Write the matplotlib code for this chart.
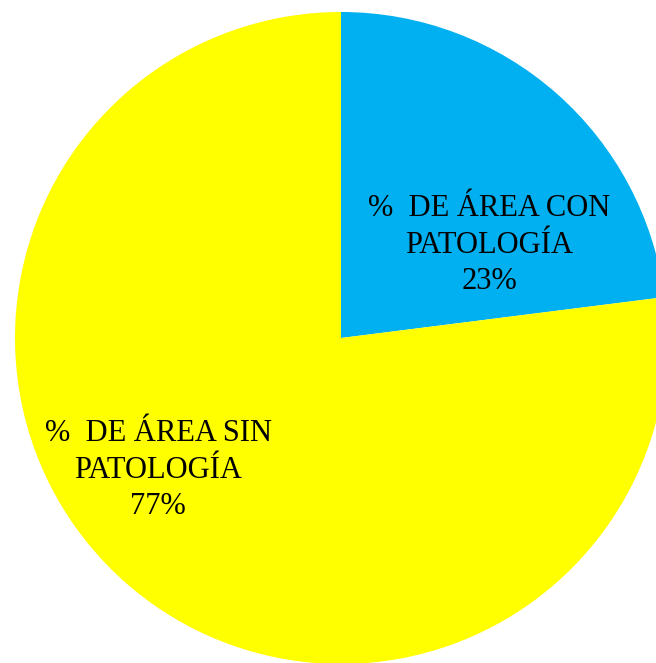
import matplotlib.pyplot as plt

labels = ["%  DE ÁREA CON\nPATOLOGÍA", "%  DE ÁREA SIN\nPATOLOGÍA"]
values = [23, 77]
colors = ["#00B0F0", "#FFFF00"]
# label positions in pie radius units
label_pos = [(0.454, 0.285), (-0.561, -0.405)]

fig = plt.figure(figsize=(6.56, 6.63), dpi=100)
ax = fig.add_axes([15 / 656, -1 / 663, 652 / 656, 652 / 663])

ax.pie(values, colors=colors, startangle=90, counterclock=False,
       radius=1.0, wedgeprops=dict(linewidth=0))
ax.set_xlim(-1, 1)
ax.set_ylim(-1, 1)
ax.set_aspect("equal")
ax.axis("off")

for lab, v, (x, y) in zip(labels, values, label_pos):
    ax.text(x, y, f"{lab}\n{v}%", ha="center", va="center",
            fontsize=22, family="Liberation Serif", linespacing=1.35)

fig.savefig("out.png", dpi=100)
